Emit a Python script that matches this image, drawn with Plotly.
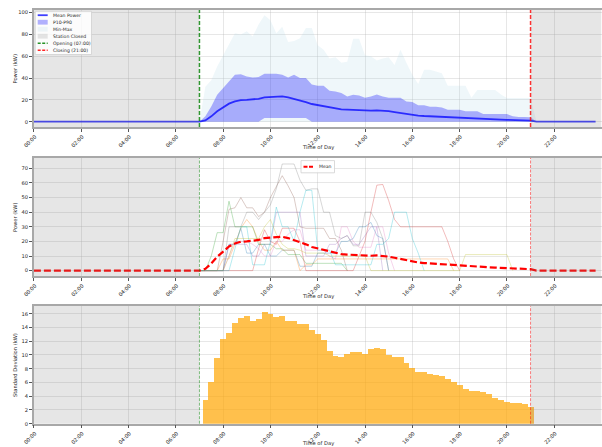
import numpy as np
import plotly.graph_objects as go

# ---------------------------------------------------------------- data
# quarter-hour profile while the station is open (07:00 .. 21:00, 57 slots)
open_mean = [
    0.0, 1.2, 4.9, 9.5,
    13.0, 16.5, 18.6, 19.8,
    20.0, 20.4, 21.0, 22.3,
    22.6, 22.9, 23.2, 22.3,
    21.0, 19.8, 18.0, 16.2,
    15.2, 14.3, 13.1, 12.2,
    11.3, 11.0, 10.7, 10.4,
    10.3, 10.2, 10.4, 10.1,
    9.6, 8.8, 7.9, 7.0,
    6.0, 5.6, 5.2, 4.9,
    4.6, 4.3, 4.0, 3.7,
    3.3, 3.1, 2.9, 2.6,
    2.4, 2.3, 2.1, 1.9,
    1.7, 1.6, 1.4, 1.2,
    1.0,
]
open_p10 = [
    0, 0, 0, 0,
    0, 0, 0, 0,
    0, 0, 0, 3.4,
    3.4, 3.4, 3.4, 3.4,
    3.4, 3.4, 3.4, 0,
] + [0] * 37
open_p90 = [
    0.0, 5.0, 14.0, 24.7,
    30.8, 37.0, 43.0, 43.6,
    41.5, 40.5, 41.0, 44.0,
    44.0, 44.0, 43.0, 40.5,
    43.0, 40.0, 40.0, 34.0,
    33.0, 33.0, 28.4, 27.7,
    26.2, 23.0, 24.7, 24.0,
    22.0, 23.0, 25.0, 23.0,
    22.0, 22.0, 22.0, 18.6,
    18.0, 15.0, 15.0, 13.7,
    13.7, 13.0, 11.0, 11.0,
    11.0, 9.5, 9.5, 9.5,
    7.0, 7.0, 7.0, 7.0,
    7.0, 5.0, 4.3, 4.3,
    4.0,
]
open_max = [
    0.0, 32.0, 38.0, 50.6,
    61.0, 72.0, 81.0, 80.0,
    83.0, 78.0, 89.0, 97.5,
    93.0, 81.0, 87.0, 73.0,
    74.0, 76.5, 86.0, 86.0,
    70.0, 66.0, 58.0, 59.0,
    54.0, 55.0, 76.0, 76.0,
    61.0, 60.0, 56.0, 58.0,
    59.0, 52.0, 66.0, 54.0,
    43.0, 34.5, 47.5, 47.5,
    46.0, 44.5, 33.0, 33.0,
    33.0, 33.0, 22.0, 29.0,
    29.0, 29.0, 29.0, 25.0,
    21.6, 21.6, 21.6, 21.6,
    21.6,
]
open_min = [0.0] * 57
open_std = [
    0.0, 3.5, 6.0, 9.55,
    12.3, 13.2, 14.6, 15.4,
    15.65, 15.0, 15.3, 16.3,
    16.0, 15.5, 15.65, 14.9,
    14.9, 14.5, 14.45, 13.6,
    13.0, 12.2, 10.6, 9.9,
    9.65, 10.1, 10.5, 10.4,
    10.1, 10.9, 11.0, 10.8,
    10.0, 9.65, 9.65, 8.9,
    8.05, 7.5, 7.5, 7.3,
    7.1, 6.9, 6.5, 6.1,
    5.7, 5.0, 4.75, 4.75,
    4.55, 4.3, 3.8, 3.4,
    3.1, 3.05, 2.95, 2.8,
    2.5,
]

# individual charging days: (first active slot, kW per quarter hour)
day_gray = ("08:15", [30, 30, 30, 40, 40, 35, 40, 45, 56, 73, 73, 73, 62, 55, 56, 56,
                      40, 40, 24, 22, 24, 17, 17, 40, 40, 33, 22, 0])
day_brown = ("08:00", [20, 42, 43, 50, 43, 43, 37, 40, 50, 58, 65, 58, 50, 30, 29, 29,
                       29, 29, 22, 22, 14, 0])
day_green = ("07:30", [10, 26, 26, 47.5, 30, 30, 30, 30, 18, 18, 18, 15, 15, 11, 11, 11,
                       5, 5, 5, 5, 5, 5, 5, 0])
day_cyan = ("08:15", [0, 15, 30, 30, 4, 4, 4, 20, 43.5, 30, 30, 20, 40, 55, 55, 14,
                      14, 14, 4, 4, 4, 4, 4, 4, 4, 18, 18, 22, 40, 40, 40, 22, 12, 0])
day_red = ("09:30", [15, 28, 20, 18, 29, 29, 29, 20, 0, 0, 0, 0, 0, 0, 0, 0,
                     0, 10, 20, 40, 58.5, 59, 48, 35, 30, 30, 30, 30, 30, 30, 30, 30,
                     20, 8, 0])
day_orange = ("08:00", [8, 8, 18, 29, 35, 30, 20, 14, 14, 20, 14, 14, 14, 0, 4, 4,
                        8, 8, 8, 8, 8, 8, 8, 8, 8, 8, 8, 8, 8, 8, 8, 8,
                        8, 8, 8, 8, 8, 8, 8, 0])
day_olive = ("08:15", [10, 22, 22, 22, 22, 22, 30, 35, 25, 18, 15, 15, 14, 12, 12, 12,
                       12, 10, 10, 10, 10, 10, 10, 10, 0, 0, 0, 0, 0, 0, 0, 0,
                       0, 0, 0, 0, 0, 0, 0, 0, 11, 11, 11, 11, 11, 11, 11, 11, 0])
day_blue = ("08:15", [18, 18, 29, 12, 12, 18, 18, 10, 10, 14, 14, 14, 3, 3, 3, 12,
                      12, 12, 12, 20, 20, 22, 30, 30, 33, 24, 22, 0])
day_purple = ("08:15", [18, 18, 18, 18, 10, 10, 18, 18, 40, 40, 40, 40, 40, 10, 10, 10,
                        10, 18, 18, 22, 24, 18, 18, 24, 30, 30, 0])
day_pink = ("08:15", [10, 20, 20, 20, 18, 15, 10, 10, 20, 20, 25, 28, 28, 14, 14, 14,
                      14, 10, 8, 30, 30, 20, 16, 16, 16, 30, 30, 12, 0])

days = [day_blue, day_orange, day_green, day_red, day_purple,
        day_brown, day_pink, day_gray, day_olive, day_cyan]
day_colors = ["#1f77b4", "#ff7f0e", "#2ca02c", "#d62728", "#9467bd",
              "#8c564b", "#e377c2", "#7f7f7f", "#bcbd22", "#17becf"]

tick_hours = list(range(0, 24, 2))
tick_text = ["00:00", "02:00", "04:00", "06:00", "08:00", "10:00",
             "12:00", "14:00", "16:00", "18:00", "20:00", "22:00"]

OPEN_H, CLOSE_H = 7.0, 21.0

# ---------------------------------------------------------------- helpers
hours = np.arange(96) * 0.25
open_first = int(OPEN_H * 4)


def full_day(values):
    """Place an opening-hours profile into a zero-filled 24 h array."""
    out = np.zeros(96)
    out[open_first:open_first + len(values)] = values
    return out


def hm(txt):
    h, m = txt.split(":")
    return int(h) + int(m) / 60


def rgba(hex_color, a):
    h = hex_color.lstrip("#")
    return f"rgba({int(h[0:2], 16)},{int(h[2:4], 16)},{int(h[4:6], 16)},{a})"


mean_day = full_day(open_mean)
p10_day = full_day(open_p10)
p90_day = full_day(open_p90)
max_day = full_day(open_max)
min_day = full_day(open_min)
open_hours = hours[open_first:open_first + len(open_std)]

W, H = 602, 447
FONT = "DejaVu Sans"
TXT = "#262626"


def fx(px):
    return px / W


def fy(py):
    return 1 - py / H


fig = go.Figure()

# ---------------------------------------------------------------- panel 1
fig.add_trace(go.Scatter(x=hours, y=min_day, mode="lines", line=dict(width=0),
                         showlegend=False, hoverinfo="skip", xaxis="x", yaxis="y"))
fig.add_trace(go.Scatter(x=hours, y=max_day, mode="lines", line=dict(width=0),
                         fill="tonexty", fillcolor="rgba(173,216,230,0.2)",
                         showlegend=False, name="Min-Max", xaxis="x", yaxis="y"))
fig.add_trace(go.Scatter(x=hours, y=p10_day, mode="lines", line=dict(width=0),
                         showlegend=False, hoverinfo="skip", xaxis="x", yaxis="y"))
fig.add_trace(go.Scatter(x=hours, y=p90_day, mode="lines", line=dict(width=0),
                         fill="tonexty", fillcolor="rgba(0,0,255,0.3)",
                         showlegend=False, name="P10-P90", xaxis="x", yaxis="y"))
fig.add_trace(go.Scatter(x=hours, y=mean_day, mode="lines",
                         line=dict(color="rgba(0,0,255,0.75)", width=1.8),
                         showlegend=False, name="Mean Power", xaxis="x", yaxis="y"))

# ---------------------------------------------------------------- panel 2
for (start, vals), col in zip(days, day_colors):
    t0 = hm(start)
    xs = [OPEN_H] + [t0 + 0.25 * i for i in range(len(vals))]
    ys = [0.0] + list(vals)
    if t0 - 0.25 >= OPEN_H:
        xs.insert(1, t0 - 0.25)
        ys.insert(1, 0.0)
    fig.add_trace(go.Scatter(x=xs, y=ys, mode="lines",
                             line=dict(color=rgba(col, 0.35), width=0.9),
                             showlegend=False, xaxis="x2", yaxis="y2"))
fig.add_trace(go.Scatter(x=hours, y=mean_day, mode="lines",
                         line=dict(color="#ff0000", width=2.2, dash="7px,3px"),
                         showlegend=False, name="Mean", xaxis="x2", yaxis="y2"))

# ---------------------------------------------------------------- panel 3
fig.add_trace(go.Bar(x=open_hours, y=open_std, width=0.25,
                     marker=dict(color="rgba(255,165,0,0.7)", line=dict(width=0)),
                     showlegend=False, xaxis="x3", yaxis="y3"))

# ---------------------------------------------------------------- axes
x_dom = [fx(33.9), fx(601.5)]
y_doms = {
    "": [fy(127.0), fy(10.0)],
    "2": [fy(276.0), fy(158.0)],
    "3": [fy(423.7), fy(306.0)],
}
y_ranges = {"": [-4.88, 102.4], "2": [-3.67, 77.1], "3": [0, 17.12]}
y_dticks = {"": 20, "2": 10, "3": 2}

axis_common = dict(
    showline=True, linecolor="#a8a8a8", linewidth=1.5, mirror=True,
    ticks="outside", ticklen=3, tickwidth=0.8, tickcolor="#555",
    showgrid=True, gridcolor="rgba(176,176,176,0.3)", gridwidth=0.8,
    zeroline=False, automargin=False,
    tickfont=dict(family=FONT, size=5.2, color=TXT),
)
layout = {}
for k in ["", "2", "3"]:
    layout[f"xaxis{k}"] = dict(
        axis_common, domain=x_dom, range=[0, 24], anchor=f"y{k}",
        tickmode="array", tickvals=tick_hours, ticktext=tick_text,
        tickangle=-45, ticklabelshift=1,
    )
    layout[f"yaxis{k}"] = dict(
        axis_common, domain=y_doms[k], range=y_ranges[k], anchor=f"x{k}",
        dtick=y_dticks[k], tick0=0,
    )

# ---------------------------------------------------------------- shading & markers
shapes = []
for k, heavy in [("", True), ("2", False), ("3", False)]:
    xr = f"x{k}"
    yr = f"y{k} domain"
    for a, b in [(0, OPEN_H), (CLOSE_H, 24)]:
        shapes.append(dict(type="rect", xref=xr, yref=yr, x0=a, x1=b, y0=0, y1=1,
                           fillcolor="rgba(128,128,128,0.2)", line=dict(width=0),
                           layer="above"))
    w = 1.5 if heavy else 0.9
    al = 0.8 if heavy else 0.55
    dash = "4px,2px" if heavy else "3px,1.5px"
    shapes.append(dict(type="line", xref=xr, yref=yr, x0=OPEN_H, x1=OPEN_H, y0=0, y1=1,
                       line=dict(color=f"rgba(0,128,0,{al})", width=w, dash=dash),
                       layer="above"))
    shapes.append(dict(type="line", xref=xr, yref=yr, x0=CLOSE_H, x1=CLOSE_H, y0=0, y1=1,
                       line=dict(color=f"rgba(255,0,0,{al})", width=w, dash=dash),
                       layer="above"))

annotations = []

# legend box, panel 1
shapes.append(dict(type="rect", xref="paper", yref="paper",
                   x0=fx(35.2), x1=fx(91.5), y0=fy(54.5), y1=fy(11.3),
                   fillcolor="rgba(255,255,255,0.85)",
                   line=dict(color="#d0d0d0", width=0.8), layer="above"))
legend_items = [
    ("Mean Power", "line", dict(color="rgba(0,0,255,0.75)", width=1.8)),
    ("P10-P90", "patch", "rgba(0,0,255,0.3)"),
    ("Min-Max", "patch", "rgba(173,216,230,0.2)"),
    ("Station Closed", "patch", "rgba(128,128,128,0.2)"),
    ("Opening (07:00)", "line", dict(color="rgba(0,128,0,0.85)", width=1.5, dash="3px,1.5px")),
    ("Closing (21:00)", "line", dict(color="rgba(255,0,0,0.85)", width=1.5, dash="3px,1.5px")),
]
for i, (label, kind, style) in enumerate(legend_items):
    yc = 15.2 + i * 7.0
    if kind == "line":
        shapes.append(dict(type="line", xref="paper", yref="paper",
                           x0=fx(37.7), x1=fx(47.7), y0=fy(yc), y1=fy(yc),
                           line=style, layer="above"))
    else:
        shapes.append(dict(type="rect", xref="paper", yref="paper",
                           x0=fx(37.7), x1=fx(47.7), y0=fy(yc + 2.4), y1=fy(yc - 2.4),
                           fillcolor=style, line=dict(width=0), layer="above"))
    annotations.append(dict(xref="paper", yref="paper", x=fx(50.5), y=fy(yc),
                            text=label, showarrow=False, xanchor="left", yanchor="middle",
                            font=dict(family=FONT, size=4.6, color=TXT)))

# legend box, panel 2
shapes.append(dict(type="rect", xref="paper", yref="paper",
                   x0=fx(301.0), x1=fx(334.5), y0=fy(172.8), y1=fy(160.6),
                   fillcolor="rgba(255,255,255,0.85)",
                   line=dict(color="#d0d0d0", width=0.8), layer="above"))
shapes.append(dict(type="line", xref="paper", yref="paper",
                   x0=fx(303.5), x1=fx(313.5), y0=fy(166.7), y1=fy(166.7),
                   line=dict(color="#ff0000", width=2.0, dash="4px,1.5px"), layer="above"))
annotations.append(dict(xref="paper", yref="paper", x=fx(316.5), y=fy(166.7),
                        text="Mean", showarrow=False, xanchor="left", yanchor="middle",
                        font=dict(family=FONT, size=4.6, color=TXT)))

# axis titles
for yc, title in [(68.5, "Power (kW)"), (217.0, "Power (kW)"), (365.0, "Standard Deviation (kW)")]:
    annotations.append(dict(xref="paper", yref="paper", x=fx(15.0), y=fy(yc),
                            text=title, textangle=-90, showarrow=False,
                            xanchor="center", yanchor="middle",
                            font=dict(family=FONT, size=5.2, color=TXT)))
for yc in [147.5, 296.8, 443.0]:
    annotations.append(dict(xref="paper", yref="paper", x=fx(317.7), y=fy(yc),
                            text="Time of Day", showarrow=False,
                            xanchor="center", yanchor="middle",
                            font=dict(family=FONT, size=5.2, color=TXT)))

fig.update_layout(
    **layout,
    shapes=shapes,
    annotations=annotations,
    width=W, height=H,
    margin=dict(l=0, r=0, t=0, b=0),
    paper_bgcolor="white", plot_bgcolor="white",
    bargap=0, showlegend=False,
    font=dict(family=FONT, size=5.2, color=TXT),
)

fig.write_html("out.html")
